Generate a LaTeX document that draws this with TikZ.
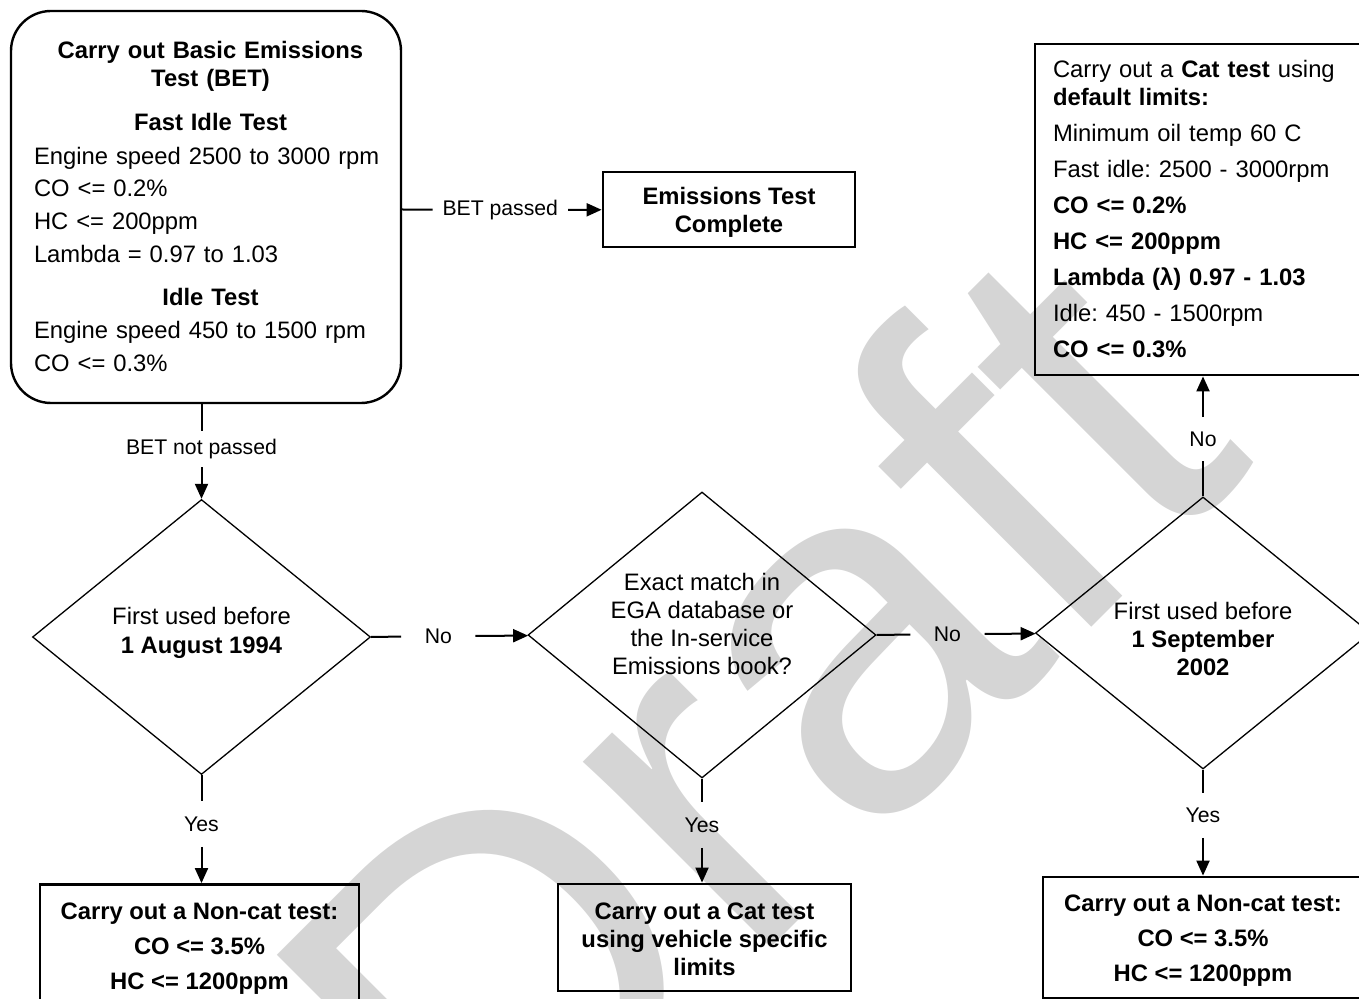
\documentclass[tikz,border=0pt]{standalone}
\usepackage{fontspec}
\setmainfont{Liberation Sans}
\usepackage{tikz}
\usetikzlibrary{shapes.geometric,arrows.meta}
\setlength{\parindent}{0pt}
\frenchspacing
\def\bodyfont{\fontsize{11.9}{14}\selectfont}
\def\lblfont{\fontsize{10.6}{12.7}\selectfont}
\def\hdline{\centering\leftskip=4.5pt plus 1fil\bfseries}
\tikzset{
  rbox/.style={draw, line width=1.2pt, rounded corners=20pt, font=\bodyfont, inner sep=0pt},
  sbox/.style={draw, line width=1.4pt, font=\bodyfont, inner sep=0pt},
  qbox/.style={draw, diamond, line width=0.65pt, inner sep=0pt},
  qtext/.style={font=\bodyfont, align=center, inner sep=0pt},
  lbl/.style={font=\lblfont, inner sep=0pt},
  conn/.style={line width=1pt},
  arr/.style={conn, -{Triangle[length=7.5pt,width=6.5pt]}},
  wmark/.style={text=gray!33, font=\fontsize{250}{250}\selectfont, rotate=45, anchor=base west, inner sep=0pt}
}

\begin{document}
\begin{tikzpicture}[x=0.5pt,y=-0.5pt]
  \useasboundingbox (0,0) rectangle (1359,999);
  \node[wmark] (wm) at (491,1228) {Draft};

  \node[rbox, align=left, text width=176pt, minimum width=195pt, minimum height=196pt] (bet) at (206,207) {%
    \leftskip=2pt
    {\hdline Carry out Basic Emissions\\Test (BET)\\[8pt]Fast Idle Test\par}
    \vspace{3pt}
    Engine speed 2500 to 3000 rpm\\[2pt]
    CO <= 0.2\%\\[2.5pt]
    HC <= 200ppm\\[2.5pt]
    Lambda = 0.97 to 1.03\par
    \vspace{7.5pt}
    {\hdline Idle Test\par}
    \vspace{2.5pt}
    Engine speed 450 to 1500 rpm\\[2.5pt]
    CO <= 0.3\%\par};
  \node[sbox, font=\bodyfont\bfseries, align=center, minimum width=126pt, minimum height=37.5pt] (done) at (729,209.5) {\rule{0pt}{11.7pt}Emissions Test\\Complete};
  \node[sbox, align=left, text width=150pt, minimum width=168pt, minimum height=165.5pt] (cat) at (1203,209.5) {%
    Carry out a \textbf{Cat test} using\\
    \textbf{default limits:}\\[4pt]
    Minimum oil temp 60 C\\[4pt]
    Fast idle: 2500 - 3000rpm\\[4pt]
    \textbf{CO <= 0.2\%}\\[4pt]
    \textbf{HC <= 200ppm}\\[4pt]
    \textbf{Lambda (λ) 0.97 - 1.03}\\[4pt]
    Idle: 450 - 1500rpm\\[4pt]
    \textbf{CO <= 0.3\%}};

  \node[qbox, minimum width=169pt, minimum height=137.5pt] (q1) at (201.5,637) {};
  \node[qtext] (q1t) at (201.5,632.5) {First used before\\[0.5pt]\textbf{1 August 1994}};
  \node[qbox, minimum width=174pt, minimum height=143pt] (q2) at (702,635) {};
  \node[qtext] (q2t) at (702,624) {Exact match in\\EGA database or\\the In-service\\Emissions book?};
  \node[qbox, minimum width=167.5pt, minimum height=136pt] (q3) at (1203,633) {};
  \node[qtext] (q3t) at (1203,638.5) {First used before\\\textbf{1 September}\\\textbf{2002}};

  \node[sbox, font=\bodyfont\bfseries, align=center, minimum width=159.5pt, minimum height=64.5pt] (nc1) at (199.5,949) {Carry out a Non-cat test:\\[3.5pt]CO <= 3.5\%\\[3.5pt]HC <= 1200ppm};
  \node[sbox, font=\bodyfont\bfseries, align=center, minimum width=146.5pt, minimum height=53.5pt] (cv) at (704.5,937.5) {\rule{0pt}{10.2pt}Carry out a Cat test\\using vehicle specific\\limits};
  \node[sbox, font=\bodyfont\bfseries, align=center, minimum width=160pt, minimum height=60.5pt] (nc3) at (1203,937.5) {\rule{0pt}{11.7pt}Carry out a Non-cat test:\\[3.5pt]CO <= 3.5\%\\[3.5pt]HC <= 1200ppm};

  \node[lbl, minimum width=67.3pt] (lbp) at (500.3,210) {BET passed};
  \node[lbl, minimum height=18pt] (lbnp) at (201.5,449) {BET not passed};
  \node[lbl, minimum width=36.7pt] (no1) at (438.3,636) {No};
  \node[lbl, minimum width=36.7pt] (no2) at (947.4,634) {No};
  \node[lbl, minimum height=21.5pt] (no3) at (1203,439) {No};
  \node[lbl, minimum height=22.5pt] (yes1) at (201.5,824) {Yes};
  \node[lbl, minimum height=22.5pt] (yes2) at (702,825) {Yes};
  \node[lbl, minimum height=22pt] (yes3) at (1203,815.5) {Yes};

  \draw[conn] (bet.east |- done.west) -- (lbp);
  \draw[arr] (lbp) -- (done);
  \draw[conn] (bet.south -| q1.north) -- (lbnp);
  \draw[arr] (lbnp) -- (q1);
  \draw[conn] (q1.east) -- (no1);
  \draw[arr] (no1) -- (q2);
  \draw[conn] (q2.east) -- (no2);
  \draw[arr] (no2) -- (q3);
  \draw[conn] (q3.north) -- (no3);
  \draw[arr] (no3) -- (cat);
  \draw[conn] (q1.south) -- (yes1);
  \draw[arr] (yes1) -- (yes1 |- nc1.north);
  \draw[conn] (q2.south) -- (yes2);
  \draw[arr] (yes2) -- (yes2 |- cv.north);
  \draw[conn] (q3.south) -- (yes3);
  \draw[arr] (yes3) -- (yes3 |- nc3.north);
\end{tikzpicture}
\end{document}
